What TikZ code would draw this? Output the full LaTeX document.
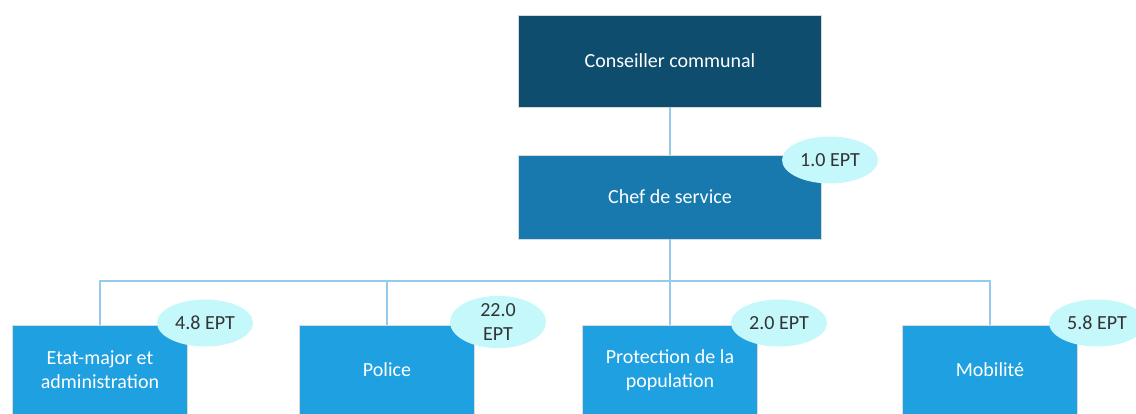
\documentclass[tikz,border=0pt]{standalone}
\usepackage{fontspec}
\setmainfont{Carlito}
\usetikzlibrary{shapes.geometric}
\definecolor{councilblue}{HTML}{0F4D6F}
\definecolor{chiefblue}{HTML}{1779AE}
\definecolor{unitblue}{HTML}{1FA0E0}
\definecolor{eptcyan}{HTML}{C4F8FB}
\definecolor{linkblue}{HTML}{92CCEA}

\begin{document}
\begin{tikzpicture}[x=0.5pt,y=-0.5pt,
    org box/.style={fill=#1,draw=black!15,line width=0.3pt,text=white,align=center,inner sep=0pt},
    ept tag/.style={ellipse,fill=eptcyan,text=black!80,minimum width=48pt,minimum height=23.5pt,inner sep=0pt,align=center},
    link/.style={draw=linkblue,line width=0.8pt}]
                \useasboundingbox (0,0) rectangle (1136,413);
                \node[org box=councilblue,minimum width=151.5pt,minimum height=46pt] (conseiller) at (670,61) {Conseiller communal};
                \node[org box=chiefblue,minimum width=151.5pt,minimum height=42pt] (chef) at (670,197) {Chef de service};
                \coordinate (bus) at (670,281);
                \node[org box=unitblue,minimum width=87.5pt,minimum height=45pt] (etat) at (100,370) {Etat-major et\\administration};
                \node[org box=unitblue,minimum width=87.5pt,minimum height=45pt] (police) at (387,370) {Police};
                \node[org box=unitblue,minimum width=87.5pt,minimum height=45pt] (protection) at (670,370) {Protection de la\\population};
                \node[org box=unitblue,minimum width=87.5pt,minimum height=45pt] (mobilite) at (990,370) {Mobilité};
                \draw[link] (conseiller) -- (chef);
                \draw[link] (chef) -- (bus);
                \draw[link] (bus) -| (etat);
                \draw[link] (bus) -| (police);
                \draw[link] (bus) -- (protection);
                \draw[link] (bus) -| (mobilite);
                \node[ept tag] (chefept) at (830,160) {1.0 EPT};
                \node[ept tag] (etatept) at (205,323) {4.8 EPT};
                \node[ept tag] (policeept) at (498,322) {22.0\\EPT};
                \node[ept tag] (protectionept) at (779,323) {2.0 EPT};
                \node[ept tag] (mobiliteept) at (1097,323) {5.8 EPT};
            \end{tikzpicture}
\end{document}
